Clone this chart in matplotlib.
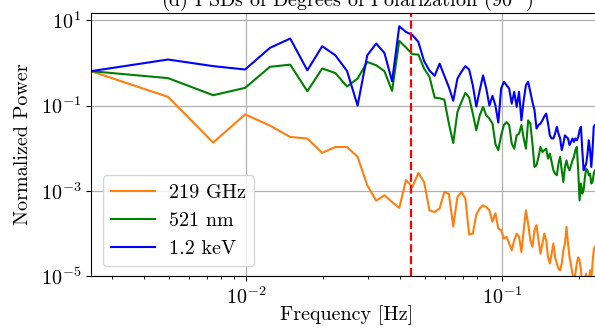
import numpy as np
import matplotlib
matplotlib.use("Agg")
import matplotlib.pyplot as plt
from matplotlib.ticker import LogLocator, NullLocator

plt.rcParams['font.family'] = 'serif'
plt.rcParams['font.serif'] = ['cmr10']
plt.rcParams['mathtext.fontset'] = 'cm'
plt.rcParams['axes.formatter.use_mathtext'] = True
plt.rcParams['axes.unicode_minus'] = False

FS = 14.5

# frequency bin width of the PSDs [Hz]
df = 0.002477
f_mark = 0.0440

labels = ["219 GHz", "521 nm", "1.2 keV"]
colors = ["#ff7f0e", "green", "blue"]

psd_219ghz = [
    0.64, 0.16, 0.0136, 0.062, 0.034, 0.0184, 0.0169, 0.0078, 0.0107, 0.0107,
    0.0063, 0.00136, 0.00059, 0.00079, 0.00055, 0.0004, 0.0018, 0.00124, 0.00264, 0.00162,
    0.00035, 0.00032, 0.00039, 0.00095, 0.00085, 0.000148, 0.00072, 0.00095, 0.00066, 0.000096,
    0.0001, 0.00028, 0.00039, 0.00046, 0.00042, 0.00035, 0.00019, 0.0003, 0.000131, 0.00012,
    0.000076, 0.000084, 0.000059, 0.000041, 0.00007, 0.0001, 0.000084, 0.000037, 0.00012, 0.00035,
    0.00017, 0.00007, 0.000049, 0.00012, 0.000158, 0.00007, 0.000034, 0.000059, 0.0001, 0.00007,
    0.000028, 0.00002, 0.000034, 0.000059, 0.000028, 0.00002, 0.000015, 0.0000138, 0.00002, 0.000041,
    0.000059, 0.000144, 0.000059, 0.000028, 0.000018, 0.0000115, 0.000008, 0.0000115, 0.00002, 0.000028,
    0.0000237, 0.0000138, 0.000007, 0.0000075, 0.000008, 0.0000115, 0.000007, 0.000008, 0.0000138, 0.000008,
    0.00002, 0.000041, 0.000049,
]

psd_521nm = [
    0.64, 0.44, 0.175, 0.26, 0.81, 0.91, 0.217, 0.74, 0.58, 0.28,
    0.43, 1.05, 0.88, 0.64, 0.22, 3.28, 2.3, 1.6, 1.57, 0.74,
    0.47, 0.154, 0.148, 0.138, 0.038, 0.0133, 0.071, 0.122, 0.198, 0.154,
    0.065, 0.0264, 0.059, 0.093, 0.059, 0.0495, 0.038, 0.0125, 0.009, 0.02,
    0.035, 0.041, 0.035, 0.0129, 0.0098, 0.02, 0.022, 0.035, 0.017, 0.0098,
    0.045, 0.038, 0.0129, 0.00365, 0.004, 0.0063, 0.0107, 0.0082, 0.009, 0.0098,
    0.0057, 0.0075, 0.0048, 0.00305, 0.00255, 0.00233, 0.00437, 0.0063, 0.00305, 0.00163,
    0.00365, 0.0052, 0.00365, 0.00305, 0.004, 0.0052, 0.0063, 0.009, 0.0107, 0.00305,
    0.0006, 0.00149, 0.00087, 0.00105, 0.00213, 0.0033, 0.00305, 0.00233, 0.00255, 0.00149,
    0.00163, 0.00255, 0.00305,
]

psd_12kev = [
    0.64, 1.2, 0.84, 0.7, 2.25, 3.72, 0.67, 2.46, 1.51, 0.65,
    0.1, 1.51, 2.84, 1.71, 0.37, 7.2, 5.3, 4.5, 3.1, 1.1,
    0.66, 0.5, 0.96, 0.5, 0.27, 0.13, 0.43, 0.62, 0.84, 0.7,
    0.3, 0.095, 0.23, 0.51, 0.25, 0.1, 0.17, 0.1, 0.04, 0.25,
    0.36, 0.3, 0.25, 0.111, 0.21, 0.093, 0.21, 0.045, 0.133, 0.3,
    0.36, 0.21, 0.122, 0.078, 0.029, 0.035, 0.038, 0.045, 0.056, 0.065,
    0.038, 0.02, 0.017, 0.017, 0.022, 0.032, 0.022, 0.017, 0.009, 0.0129,
    0.02, 0.0184, 0.017, 0.0118, 0.0141, 0.017, 0.0141, 0.017, 0.0154, 0.0184,
    0.0264, 0.032, 0.009, 0.00305, 0.00365, 0.00437, 0.0075, 0.0154, 0.009, 0.00365,
    0.009, 0.032, 0.035,
]

freqs = df * np.arange(1, len(psd_12kev) + 1)

fig = plt.figure(figsize=(5.95, 3.28), dpi=100)
ax = fig.add_axes([91 / 595, 51.7 / 328, 512 / 595, 263.6 / 328])

for psd, lab, col in zip([psd_219ghz, psd_521nm, psd_12kev], labels, colors):
    ax.loglog(freqs, psd, color=col, lw=1.5, label=lab)

ax.axvline(f_mark, color="red", ls="--", lw=1.6)

ax.set_xlim(df, 100 * df)
ax.set_ylim(1e-5, 15)
ax.set_yticks([1e1, 1e-1, 1e-3, 1e-5])
ax.yaxis.set_minor_locator(NullLocator())
ax.xaxis.set_minor_locator(LogLocator(subs=np.arange(2, 10)))
ax.grid(True, which="major", color="#b0b0b0", lw=0.9)
ax.tick_params(labelsize=FS)

ax.set_title(r"(d) PSDs of Degrees of Polarization (90$^\circ$)", fontsize=FS, pad=4)
ax.set_xlabel("Frequency [Hz]", fontsize=FS)
ax.set_ylabel("Normalized Power", fontsize=FS)
ax.xaxis.set_label_coords(0.5, -0.11)
ax.yaxis.set_label_coords(-0.115, 0.5)

ax.legend(loc="lower left", bbox_to_anchor=(0.0234, 0.039), borderaxespad=0,
          fontsize=FS, handlelength=2.2, handletextpad=0.7)

fig.savefig("out.png", dpi=100)
